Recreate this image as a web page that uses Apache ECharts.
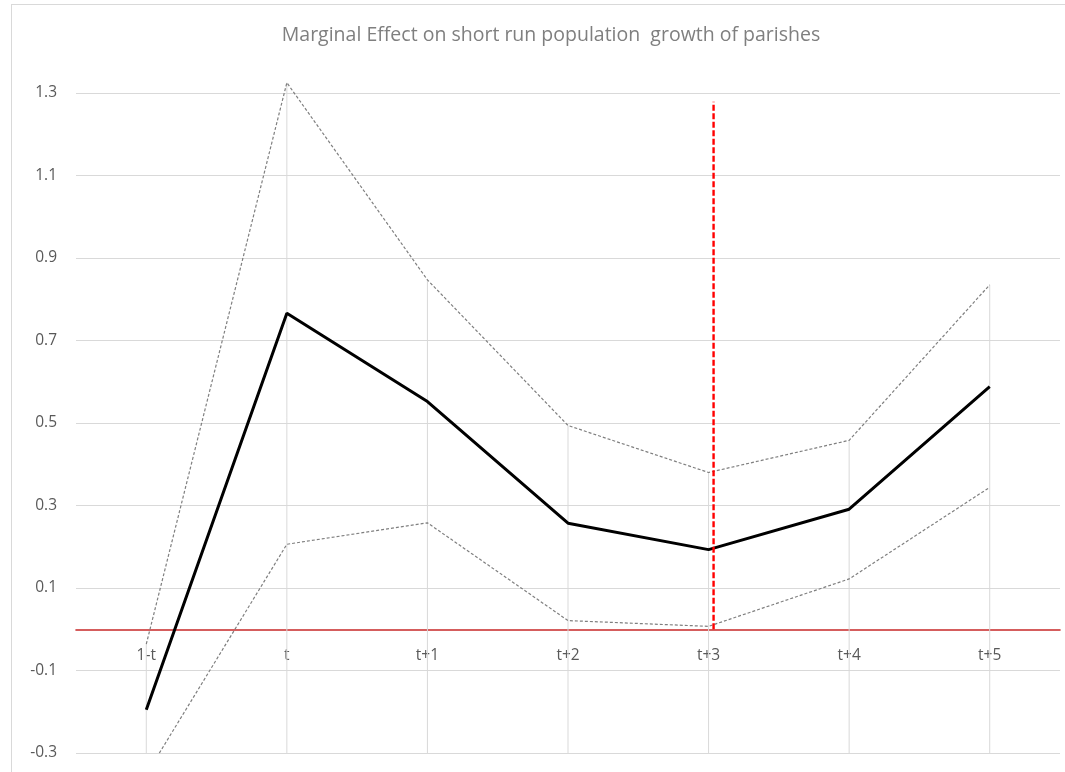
<!DOCTYPE html>
<html>
<head>
<meta charset="utf-8">
<script src="https://cdn.jsdelivr.net/npm/echarts@6/dist/echarts.min.js"></script>
<style>
html,body{margin:0;padding:0;background:#fff;overflow:hidden;width:1065px;height:772px;}
#frame{position:absolute;left:11px;top:4px;width:1054px;height:768px;border-left:1px solid #d9d9d9;border-top:1px solid #d9d9d9;box-sizing:border-box;}
#chart{position:absolute;left:0;top:0;width:1065px;height:772px;}
</style>
</head>
<body>
<div id="frame"></div>
<div id="chart"></div>
<script>
// ---- data ----
const categories = ['1-t', 't', 't+1', 't+2', 't+3', 't+4', 't+5'];
const effect     = [-0.195, 0.766, 0.552, 0.257, 0.193, 0.291, 0.588];
const upperCI    = [-0.036, 1.325, 0.847, 0.494, 0.380, 0.458, 0.835];
const lowerCI    = [-0.352, 0.206, 0.258, 0.021, 0.007, 0.122, 0.344];
const yMin = -0.3, yMax = 1.3, yStep = 0.2;
const markerCategory = 't+3';
const markerRange = [0, 1.279];
const titleText = 'Marginal Effect on short run population  growth of parishes';

const FONT = 'Open Sans';
const LABEL_GAP = 18;
const chart = echarts.init(document.getElementById('chart'), null, {renderer: 'canvas'});

const dropData = categories.map((c, i) => [i, upperCI[i]]);
const markerIdx = categories.indexOf(markerCategory);

const option = {
  animation: false,
  backgroundColor: 'transparent',
  title: {
    text: titleText,
    left: 546, textAlign: 'center',
    top: 20,
    textStyle: {fontFamily: FONT, fontSize: 19.5, fontWeight: 'normal', color: '#7f7f7f'}
  },
  grid: {left: 76, right: 5, top: 93, bottom: 19, containLabel: false, outerBoundsMode: 'none'},
  xAxis: {
    type: 'category',
    data: categories,
    boundaryGap: true,
    axisLine: {show: true, onZero: true, lineStyle: {color: '#c82828', width: 1.6}},
    axisTick: {show: false},
    axisLabel: {margin: LABEL_GAP, fontFamily: FONT, fontSize: 15.5, color: '#595959'},
    splitLine: {show: false}
  },
  yAxis: {
    type: 'value',
    min: yMin, max: yMax, interval: yStep,
    axisLine: {show: false},
    axisTick: {show: false},
    axisLabel: {margin: 19, fontFamily: FONT, fontSize: 15.5, color: '#595959',
      formatter: v => (Math.round(v * 10) / 10).toString()},
    splitLine: {show: true, lineStyle: {color: '#d9d9d9', width: 1}}
  },
  series: [
    {
      type: 'custom',
      name: 'drop',
      data: dropData,
      z: 1,
      silent: true,
      renderItem: function (params, api) {
        const p1 = api.coord([api.value(0), api.value(1)]);
        const p2 = api.coord([api.value(0), yMin]);
        return {type: 'line', shape: {x1: p1[0], y1: p1[1], x2: p2[0], y2: p2[1]},
          style: {stroke: '#d9d9d9', lineWidth: 1}};
      }
    },
    {
      type: 'line', name: 'upper', data: upperCI, symbol: 'none', clip: false, z: 3,
      lineStyle: {color: '#7f7f7f', width: 1.2, type: [3, 2]}
    },
    {
      type: 'line', name: 'lower', data: lowerCI, symbol: 'none', clip: true, z: 3,
      lineStyle: {color: '#7f7f7f', width: 1.2, type: [3, 2]}
    },
    {
      type: 'line', name: 'effect', data: effect, symbol: 'none', z: 4,
      lineStyle: {color: '#000000', width: 3}
    },
    {
      type: 'custom',
      name: 'marker',
      data: [[markerIdx, markerRange[0], markerRange[1]]],
      z: 10,
      silent: true,
      renderItem: function (params, api) {
        const p1 = api.coord([api.value(0), api.value(1)]);
        const p2 = api.coord([api.value(0), api.value(2)]);
        const dx = 5;
        return {type: 'line', shape: {x1: p1[0] + dx, y1: p1[1], x2: p2[0] + dx, y2: p2[1]},
          style: {stroke: '#ff0000', lineWidth: 2.4, lineDash: [6, 2.5]}};
      }
    }
  ]
};
chart.setOption(option);

// ECharts keeps category labels at the grid edge; place them just below the zero line instead.
const zeroPx = chart.convertToPixel({yAxisIndex: 0}, 0);
const bottomPx = chart.convertToPixel({yAxisIndex: 0}, yMin);
chart.setOption({xAxis: {axisLabel: {margin: LABEL_GAP - (bottomPx - zeroPx)}}});
</script>
</body>
</html>
